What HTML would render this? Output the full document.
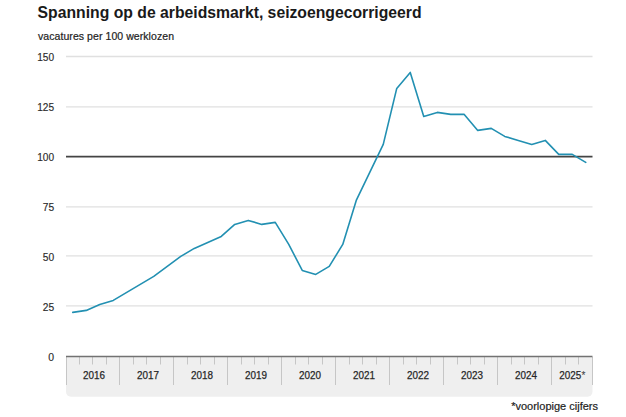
<!DOCTYPE html>
<html><head><meta charset="utf-8"><style>
html,body{margin:0;padding:0;background:#fff;}
body{width:626px;height:417px;overflow:hidden;}
svg{display:block;font-family:"Liberation Sans",sans-serif;}
.ax{font-size:11px;fill:#2a2a2a;stroke:#2a2a2a;stroke-width:0.15px;}
.yr{font-size:11px;fill:#262626;stroke:#262626;stroke-width:0.25px;}
</style></head><body>
<svg width="626" height="417" viewBox="0 0 626 417">
<text x="37.6" y="18.2" font-size="16.4" font-weight="bold" fill="#1a1a1a" textLength="384" lengthAdjust="spacingAndGlyphs">Spanning op de arbeidsmarkt, seizoengecorrigeerd</text>
<text x="38" y="39.5" font-size="10.5" fill="#222" stroke="#222" stroke-width="0.2" textLength="136" lengthAdjust="spacing">vacatures per 100 werklozen</text>
<line x1="66" x2="592.5" y1="56.5" y2="56.5" stroke="#e0e0e0" stroke-width="1.3"/>
<line x1="66" x2="592.5" y1="106.8" y2="106.8" stroke="#e0e0e0" stroke-width="1.3"/>
<line x1="66" x2="592.5" y1="206.8" y2="206.8" stroke="#e0e0e0" stroke-width="1.3"/>
<line x1="66" x2="592.5" y1="255.9" y2="255.9" stroke="#e0e0e0" stroke-width="1.3"/>
<line x1="66" x2="592.5" y1="305.9" y2="305.9" stroke="#e0e0e0" stroke-width="1.3"/>

<text x="48.30" y="360.7" class="ax" textLength="5.8" lengthAdjust="spacingAndGlyphs">0</text>
<text x="42.70" y="310.7" class="ax" textLength="11.4" lengthAdjust="spacingAndGlyphs">25</text>
<text x="42.70" y="260.7" class="ax" textLength="11.4" lengthAdjust="spacingAndGlyphs">50</text>
<text x="42.70" y="210.7" class="ax" textLength="11.4" lengthAdjust="spacingAndGlyphs">75</text>
<text x="37.20" y="160.7" class="ax" textLength="16.9" lengthAdjust="spacingAndGlyphs">100</text>
<text x="37.20" y="110.7" class="ax" textLength="16.9" lengthAdjust="spacingAndGlyphs">125</text>
<text x="37.20" y="60.7" class="ax" textLength="16.9" lengthAdjust="spacingAndGlyphs">150</text>

<path d="M66,357 H592.5 V391.8 a5,5 0 0 1 -5,5 H71 a5,5 0 0 1 -5,-5 Z" fill="#efefef"/>
<line x1="66.5" x2="66.5" y1="357" y2="385" stroke="#c6c6c6" stroke-width="1"/>
<line x1="79.5" x2="79.5" y1="357" y2="364.5" stroke="#c6c6c6" stroke-width="1"/>
<line x1="92.5" x2="92.5" y1="357" y2="364.5" stroke="#c6c6c6" stroke-width="1"/>
<line x1="106.5" x2="106.5" y1="357" y2="364.5" stroke="#c6c6c6" stroke-width="1"/>
<line x1="119.5" x2="119.5" y1="357" y2="385" stroke="#c6c6c6" stroke-width="1"/>
<line x1="133.5" x2="133.5" y1="357" y2="364.5" stroke="#c6c6c6" stroke-width="1"/>
<line x1="146.5" x2="146.5" y1="357" y2="364.5" stroke="#c6c6c6" stroke-width="1"/>
<line x1="160.5" x2="160.5" y1="357" y2="364.5" stroke="#c6c6c6" stroke-width="1"/>
<line x1="173.5" x2="173.5" y1="357" y2="385" stroke="#c6c6c6" stroke-width="1"/>
<line x1="187.5" x2="187.5" y1="357" y2="364.5" stroke="#c6c6c6" stroke-width="1"/>
<line x1="200.5" x2="200.5" y1="357" y2="364.5" stroke="#c6c6c6" stroke-width="1"/>
<line x1="214.5" x2="214.5" y1="357" y2="364.5" stroke="#c6c6c6" stroke-width="1"/>
<line x1="227.5" x2="227.5" y1="357" y2="385" stroke="#c6c6c6" stroke-width="1"/>
<line x1="241.5" x2="241.5" y1="357" y2="364.5" stroke="#c6c6c6" stroke-width="1"/>
<line x1="254.5" x2="254.5" y1="357" y2="364.5" stroke="#c6c6c6" stroke-width="1"/>
<line x1="268.5" x2="268.5" y1="357" y2="364.5" stroke="#c6c6c6" stroke-width="1"/>
<line x1="281.5" x2="281.5" y1="357" y2="385" stroke="#c6c6c6" stroke-width="1"/>
<line x1="295.5" x2="295.5" y1="357" y2="364.5" stroke="#c6c6c6" stroke-width="1"/>
<line x1="308.5" x2="308.5" y1="357" y2="364.5" stroke="#c6c6c6" stroke-width="1"/>
<line x1="322.5" x2="322.5" y1="357" y2="364.5" stroke="#c6c6c6" stroke-width="1"/>
<line x1="335.5" x2="335.5" y1="357" y2="385" stroke="#c6c6c6" stroke-width="1"/>
<line x1="349.5" x2="349.5" y1="357" y2="364.5" stroke="#c6c6c6" stroke-width="1"/>
<line x1="362.5" x2="362.5" y1="357" y2="364.5" stroke="#c6c6c6" stroke-width="1"/>
<line x1="376.5" x2="376.5" y1="357" y2="364.5" stroke="#c6c6c6" stroke-width="1"/>
<line x1="389.5" x2="389.5" y1="357" y2="385" stroke="#c6c6c6" stroke-width="1"/>
<line x1="403.5" x2="403.5" y1="357" y2="364.5" stroke="#c6c6c6" stroke-width="1"/>
<line x1="416.5" x2="416.5" y1="357" y2="364.5" stroke="#c6c6c6" stroke-width="1"/>
<line x1="430.5" x2="430.5" y1="357" y2="364.5" stroke="#c6c6c6" stroke-width="1"/>
<line x1="443.5" x2="443.5" y1="357" y2="385" stroke="#c6c6c6" stroke-width="1"/>
<line x1="457.5" x2="457.5" y1="357" y2="364.5" stroke="#c6c6c6" stroke-width="1"/>
<line x1="470.5" x2="470.5" y1="357" y2="364.5" stroke="#c6c6c6" stroke-width="1"/>
<line x1="484.5" x2="484.5" y1="357" y2="364.5" stroke="#c6c6c6" stroke-width="1"/>
<line x1="497.5" x2="497.5" y1="357" y2="385" stroke="#c6c6c6" stroke-width="1"/>
<line x1="511.5" x2="511.5" y1="357" y2="364.5" stroke="#c6c6c6" stroke-width="1"/>
<line x1="524.5" x2="524.5" y1="357" y2="364.5" stroke="#c6c6c6" stroke-width="1"/>
<line x1="538.5" x2="538.5" y1="357" y2="364.5" stroke="#c6c6c6" stroke-width="1"/>
<line x1="551.5" x2="551.5" y1="357" y2="385" stroke="#c6c6c6" stroke-width="1"/>
<line x1="565.5" x2="565.5" y1="357" y2="364.5" stroke="#c6c6c6" stroke-width="1"/>
<line x1="578.5" x2="578.5" y1="357" y2="364.5" stroke="#c6c6c6" stroke-width="1"/>
<line x1="592.5" x2="592.5" y1="357" y2="385" stroke="#c6c6c6" stroke-width="1"/>

<line x1="66" x2="592.5" y1="356.4" y2="356.4" stroke="#727272" stroke-width="1.5"/>
<text x="82.9" y="378.5" class="yr" textLength="22" lengthAdjust="spacingAndGlyphs">2016</text>
<text x="136.9" y="378.5" class="yr" textLength="22" lengthAdjust="spacingAndGlyphs">2017</text>
<text x="190.9" y="378.5" class="yr" textLength="22" lengthAdjust="spacingAndGlyphs">2018</text>
<text x="244.9" y="378.5" class="yr" textLength="22" lengthAdjust="spacingAndGlyphs">2019</text>
<text x="298.9" y="378.5" class="yr" textLength="22" lengthAdjust="spacingAndGlyphs">2020</text>
<text x="352.9" y="378.5" class="yr" textLength="22" lengthAdjust="spacingAndGlyphs">2021</text>
<text x="406.9" y="378.5" class="yr" textLength="22" lengthAdjust="spacingAndGlyphs">2022</text>
<text x="460.9" y="378.5" class="yr" textLength="22" lengthAdjust="spacingAndGlyphs">2023</text>
<text x="514.9" y="378.5" class="yr" textLength="22" lengthAdjust="spacingAndGlyphs">2024</text>
<text x="559.2" y="378.5" class="yr" textLength="22" lengthAdjust="spacingAndGlyphs">2025</text>
<text x="581.4" y="378.7" font-size="10" fill="#444" stroke="#444" stroke-width="0.1">*</text>
<line x1="66" x2="592.5" y1="156.6" y2="156.6" stroke="#444" stroke-width="1.7"/>
<polyline points="72.75,312.40 86.25,310.40 99.75,304.40 113.25,300.40 126.75,292.40 140.25,284.40 153.75,276.40 167.25,266.40 180.75,256.40 194.25,248.40 207.75,242.40 221.25,236.40 234.75,224.40 248.25,220.40 261.75,224.40 275.25,222.40 288.75,244.40 302.25,270.40 315.75,274.40 329.25,266.40 342.75,244.40 356.25,200.40 369.75,172.40 383.25,144.40 396.75,88.40 410.25,72.40 423.75,116.40 437.25,112.40 450.75,114.40 464.25,114.40 477.75,130.40 491.25,128.40 504.75,136.40 518.25,140.40 531.75,144.40 545.25,140.40 558.75,154.40 572.25,154.40 585.75,162.40" fill="none" stroke="#2290b2" stroke-width="1.6" stroke-linejoin="round" stroke-linecap="round"/>
<text x="598" y="410" text-anchor="end" font-size="11" fill="#222" stroke="#222" stroke-width="0.2">*voorlopige cijfers</text>
</svg>
</body></html>
